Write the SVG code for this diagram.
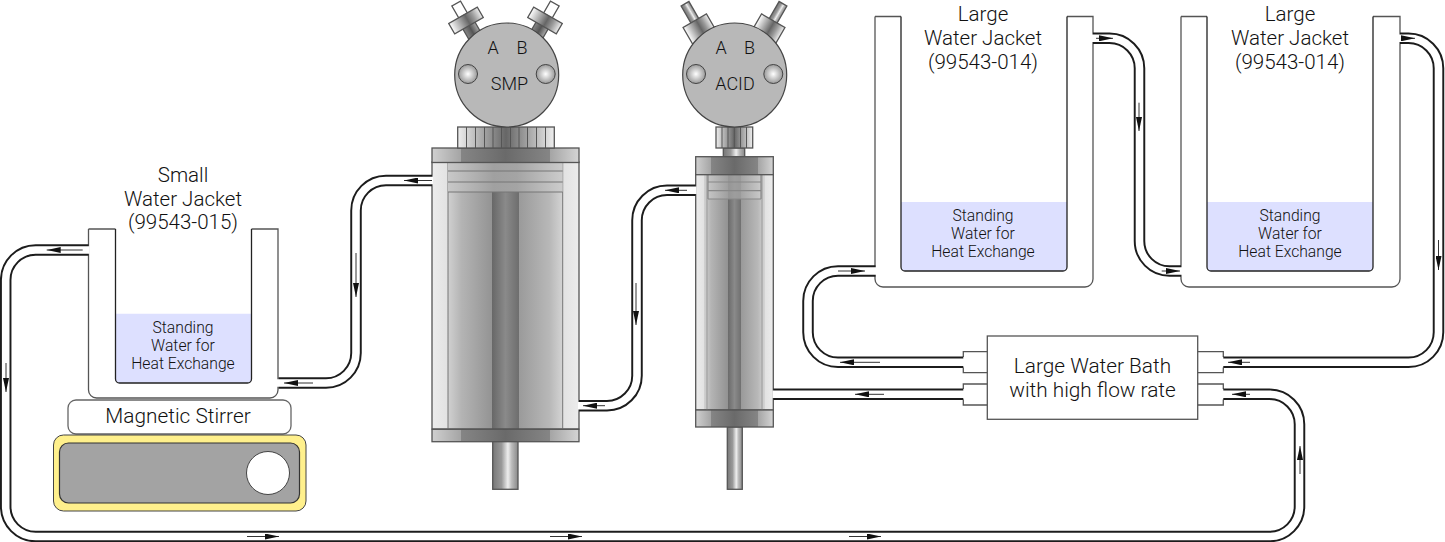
<svg xmlns="http://www.w3.org/2000/svg" width="1445" height="542" viewBox="0 0 1445 542">
<style>
text{font-family:Roboto,"Liberation Sans",sans-serif;font-weight:300;fill:#111;text-anchor:middle}
.l{font-size:20.500px}.s{font-size:15.700px}.b{font-size:20.800px}.h{font-size:18px}
.o{stroke:#555;stroke-width:1.300}
.t0{fill:none;stroke:#1c1c1c;stroke-width:11.500}
.t1{fill:none;stroke:#fff;stroke-width:7.600}
.a{stroke:#333;stroke-width:1;marker-end:url(#ah)}
.w{fill:#dde0ff;stroke:none}
.j{fill:none;stroke:#555;stroke-width:1.300}
.ji{fill:none;stroke:#222;stroke-width:1.300}
.rib{fill:none;stroke:#555;stroke-width:1}
</style>
<defs>
<marker id="ah" markerUnits="userSpaceOnUse" markerWidth="14" markerHeight="6" refX="14" refY="3" orient="auto"><path d="M0 0L14 3L0 6Z" fill="#111"/></marker>
<linearGradient id="body"><stop offset="0" stop-color="#ececec"/><stop offset=".11" stop-color="#e2e2e2"/><stop offset=".11" stop-color="#d0d0d0"/><stop offset=".2" stop-color="#b4b4b4"/><stop offset=".41" stop-color="#939393"/><stop offset=".41" stop-color="#686868"/><stop offset=".5" stop-color="#8a8a8a"/><stop offset=".59" stop-color="#6e6e6e"/><stop offset=".59" stop-color="#9a9a9a"/><stop offset=".8" stop-color="#b8b8b8"/><stop offset=".89" stop-color="#d4d4d4"/><stop offset=".89" stop-color="#e2e2e2"/><stop offset="1" stop-color="#ececec"/></linearGradient>
<linearGradient id="piston"><stop offset="0" stop-color="#c8c8c8"/><stop offset=".4" stop-color="#a0a0a0"/><stop offset=".6" stop-color="#a4a4a4"/><stop offset="1" stop-color="#cccccc"/></linearGradient>
<linearGradient id="cap"><stop offset="0" stop-color="#d0d0d0"/><stop offset=".2" stop-color="#a4a4a4"/><stop offset=".2" stop-color="#858585"/><stop offset=".5" stop-color="#6a6a6a"/><stop offset=".8" stop-color="#858585"/><stop offset=".8" stop-color="#a4a4a4"/><stop offset="1" stop-color="#d4d4d4"/></linearGradient>
<linearGradient id="shaft"><stop offset="0" stop-color="#777"/><stop offset=".35" stop-color="#999"/><stop offset=".6" stop-color="#eee"/><stop offset=".75" stop-color="#bbb"/><stop offset="1" stop-color="#888"/></linearGradient>
<linearGradient id="knob"><stop offset="0" stop-color="#eee"/><stop offset=".5" stop-color="#666"/><stop offset="1" stop-color="#eee"/></linearGradient>
<linearGradient id="fit"><stop offset="0" stop-color="#fff"/><stop offset=".55" stop-color="#666"/><stop offset=".75" stop-color="#999"/><stop offset="1" stop-color="#eee"/></linearGradient>
<linearGradient id="neck"><stop offset="0" stop-color="#888"/><stop offset=".5" stop-color="#555"/><stop offset="1" stop-color="#aaa"/></linearGradient>
<radialGradient id="ball"><stop offset="0" stop-color="#fff"/><stop offset="1" stop-color="#999"/></radialGradient>
</defs>

<g id="small-jacket">
<path class="w" d="M115.500 313.700H251.500V379a4 4 0 0 1-4 4H119.500a4 4 0 0 1-4-4Z"/>
<path class="j" d="M88.500 229H115.500M251.500 229H278V390a8 8 0 0 1-8 8H96.500a8 8 0 0 1-8-8V229"/>
<path class="ji" d="M115.500 229V379a4 4 0 0 0 4 4H247.500a4 4 0 0 0 4-4V229"/>
<text class="l" x="183" y="182">Small</text><text class="l" x="183" y="205.500">Water Jacket</text><text class="l" x="183" y="229">(99543-015)</text>
<text class="s" x="183" y="332.500">Standing</text><text class="s" x="183" y="350.500">Water for</text><text class="s" x="183" y="368.500">Heat Exchange</text>
</g>
<g id="magnetic-stirrer">
<rect x="68" y="400" width="223" height="34" rx="8" fill="#fff" stroke="#666" stroke-width="1.300"/>
<text class="b" x="178" y="423">Magnetic Stirrer</text>
</g>
<g id="stirrer-base">
<rect x="53.500" y="435" width="252.500" height="76" rx="10" fill="#fff08c" stroke="#444" stroke-width="1"/>
<rect x="59.500" y="443" width="240" height="60" rx="9" fill="#a3a3a3" stroke="#333" stroke-width="1.200"/>
<circle cx="268" cy="473" r="21.500" fill="#fff" stroke="#444" stroke-width="1"/>
</g>

<g id="smp-pump">
<rect x="492.700" y="441" width="25.300" height="48.300" fill="url(#shaft)" class="o"/>
<rect x="432" y="162" width="147" height="267" fill="url(#body)" class="o"/>
<path d="M448 162V429M562.700 162V429" stroke="#777" fill="none"/>
<path d="M448 163H562.700V192H448Z" fill="url(#piston)"/>
<path d="M448 171H562.700M448 182H562.700M448 192H562.700" fill="none" stroke="#777" stroke-width="1.200"/>
<rect x="432" y="429.300" width="147" height="12.400" fill="url(#cap)" class="o"/>
<rect x="432" y="148" width="147" height="14.500" fill="url(#cap)" class="o"/>
<rect x="457.700" y="127" width="96.600" height="21" fill="url(#knob)" class="o"/>
<path class="rib" d="M466.500 127V148M475.500 127V148M484.500 127V148M493 127V148M501.500 127V148M510.500 127V148M519 127V148M527.500 127V148M536.500 127V148M545.500 127V148"/>
<g transform="translate(466 20.500) rotate(-30)"><rect x="-7" y="5" width="14" height="18" fill="url(#neck)" class="o"/><rect x="-5" y="-19.600" width="10" height="14" fill="#fff" class="o"/><rect x="-16.500" y="-6" width="33" height="12" fill="url(#fit)" class="o"/></g>
<g transform="translate(545 20.500) rotate(30)"><rect x="-7" y="5" width="14" height="18" fill="url(#neck)" class="o"/><rect x="-5" y="-19.600" width="10" height="14" fill="#fff" class="o"/><rect x="-16.500" y="-6" width="33" height="12" fill="url(#fit)" class="o"/></g>
<circle cx="506.700" cy="75" r="52" fill="#b8b8b8" stroke="#444" stroke-width="1.200"/>
<circle cx="468" cy="74" r="9.500" fill="url(#ball)" stroke="#444"/><circle cx="545.700" cy="74" r="9.500" fill="url(#ball)" stroke="#444"/>
<text class="h" x="493" y="54">A</text><text class="h" x="522" y="54">B</text><text class="h" x="509.500" y="90">SMP</text>
</g>

<g id="acid-pump">
<rect x="727.300" y="427" width="15" height="62.300" fill="url(#shaft)" class="o"/>
<rect x="723.300" y="148" width="21.400" height="9" fill="url(#shaft)" class="o"/>
<rect x="695.700" y="174" width="77.600" height="236" fill="url(#body)" class="o"/>
<path d="M707 174V410M762 174V410" stroke="#999" fill="none"/>
<path d="M708 175H761V199H708Z" fill="url(#piston)" fill-opacity=".8"/>
<path d="M708 175V199M761 175V199M708 182H761M708 190.700H761M708 199H761" fill="none" stroke="#888" stroke-width="1.200"/>
<rect x="695.700" y="410" width="77.600" height="17" fill="url(#cap)" class="o"/>
<rect x="695.700" y="156.700" width="77.600" height="18" fill="url(#cap)" class="o"/>
<rect x="716" y="127" width="36.700" height="21" fill="url(#knob)" class="o"/>
<path class="rib" d="M722 127V148M728 127V148M734.300 127V148M740.500 127V148M746.500 127V148"/>
<g transform="translate(699 28) rotate(-30)"><rect x="-4.500" y="-28" width="9" height="22" fill="url(#shaft)" class="o"/><rect x="-13.500" y="-8.500" width="27" height="25" fill="url(#fit)" class="o"/></g>
<g transform="translate(769 28) rotate(30)"><rect x="-4.500" y="-28" width="9" height="22" fill="url(#shaft)" class="o"/><rect x="-13.500" y="-8.500" width="27" height="25" fill="url(#fit)" class="o"/></g>
<circle cx="734.700" cy="75" r="52" fill="#b8b8b8" stroke="#444" stroke-width="1.200"/>
<circle cx="696" cy="74" r="9.500" fill="url(#ball)" stroke="#444"/><circle cx="773.300" cy="74" r="9.500" fill="url(#ball)" stroke="#444"/>
<text class="h" x="721" y="54">A</text><text class="h" x="749.500" y="54">B</text><text class="h" x="735" y="90">ACID</text>
</g>

<g id="large-jacket-1">
<path class="w" d="M901 202H1067V267a4 4 0 0 1-4 4H905a4 4 0 0 1-4-4Z"/>
<path class="j" d="M875 16.500H901M1067 16.500H1093V279a8 8 0 0 1-8 8H883a8 8 0 0 1-8-8V16.500"/>
<path class="ji" d="M901 16.500V267a4 4 0 0 0 4 4H1063a4 4 0 0 0 4-4V16.500"/>
<text class="l" x="983" y="20.500">Large</text><text class="l" x="983" y="44.500">Water Jacket</text><text class="l" x="983" y="68.500">(99543-014)</text>
<text class="s" x="983" y="220.500">Standing</text><text class="s" x="983" y="238.500">Water for</text><text class="s" x="983" y="256.500">Heat Exchange</text>
</g>
<g id="large-jacket-2">
<path class="w" d="M1207 202H1373V267a4 4 0 0 1-4 4H1211a4 4 0 0 1-4-4Z"/>
<path class="j" d="M1181 16.500H1207M1373 16.500H1400V279a8 8 0 0 1-8 8H1189a8 8 0 0 1-8-8V16.500"/>
<path class="ji" d="M1207 16.500V267a4 4 0 0 0 4 4H1369a4 4 0 0 0 4-4V16.500"/>
<text class="l" x="1290" y="20.500">Large</text><text class="l" x="1290" y="44.500">Water Jacket</text><text class="l" x="1290" y="68.500">(99543-014)</text>
<text class="s" x="1290" y="220.500">Standing</text><text class="s" x="1290" y="238.500">Water for</text><text class="s" x="1290" y="256.500">Heat Exchange</text>
</g>
<g id="water-bath">
<rect x="987.300" y="336" width="210.400" height="83.300" fill="#fff" class="o"/>
<path class="o" fill="none" d="M987.300 351.700H963.300V357M963.300 367.500V372.700H987.300M987.300 384H963.300V389M963.300 399.500V405H987.300M1197.700 351.700H1223.300V357M1223.300 367.500V372.700H1197.700M1197.700 384H1223.300V389M1223.300 399.500V405H1197.700"/>
<text class="b" x="1092.500" y="373">Large Water Bath</text><text class="b" x="1092.500" y="396.500">with high flow rate</text>
</g>

<g id="connectors">
<g class="t0">
<path d="M278.500 383H326a30 30 0 0 0 30-30V210.500a30 30 0 0 1 30-30H432"/>
<path d="M579 405.700H607a30 30 0 0 0 30-30V220.300a30 30 0 0 1 30-30H695.700"/>
<path d="M773.300 394.300H963.300"/>
<path d="M963.300 362.300H838a30 30 0 0 1-30-30V301a30 30 0 0 1 30-30H875.500"/>
<path d="M1093 38.300H1109.500a30 30 0 0 1 30 30V241a30 30 0 0 0 30 30H1181"/>
<path d="M1400 38.300H1408.500a30 30 0 0 1 30 30V332.300a30 30 0 0 1-30 30H1223.300"/>
<path d="M88.500 250H35.700a30 30 0 0 0-30 30V506.500a30 30 0 0 0 30 30H1269.500a30 30 0 0 0 30-30V424.300a30 30 0 0 0-30-30H1223.300"/>
</g>
<g class="t1">
<path d="M277 383H326a30 30 0 0 0 30-30V210.500a30 30 0 0 1 30-30H433"/>
<path d="M578 405.700H607a30 30 0 0 0 30-30V220.300a30 30 0 0 1 30-30H696.500"/>
<path d="M772.500 394.300H964"/>
<path d="M964 362.300H838a30 30 0 0 1-30-30V301a30 30 0 0 1 30-30H876"/>
<path d="M1092 38.300H1109.500a30 30 0 0 1 30 30V241a30 30 0 0 0 30 30H1182"/>
<path d="M1399 38.300H1408.500a30 30 0 0 1 30 30V332.300a30 30 0 0 1-30 30H1222.500"/>
<path d="M89.500 250H35.700a30 30 0 0 0-30 30V506.500a30 30 0 0 0 30 30H1269.500a30 30 0 0 0 30-30V424.300a30 30 0 0 0-30-30H1222.500"/>
</g>
<g>
<path class="a" d="M313 383H284"/><path class="a" d="M356 253V297"/><path class="a" d="M432 180.500H404"/>
<path class="a" d="M605 405.700H583"/><path class="a" d="M636 283V325"/><path class="a" d="M687 190.300H665"/>
<path class="a" d="M884 394.300H855"/>
<path class="a" d="M880 362.300H840"/><path class="a" d="M838 271H865"/>
<path class="a" d="M1096 38.300H1113"/><path class="a" d="M1139 102.700V131"/><path class="a" d="M1161.700 271H1180"/>
<path class="a" d="M1402 38.300H1415"/><path class="a" d="M1438.500 240V270"/><path class="a" d="M1250 362.300H1228"/>
<path class="a" d="M1250 394.300H1232"/><path class="a" d="M1300 474V446"/>
<path class="a" d="M247 536.500H279"/><path class="a" d="M550 536.500H582"/><path class="a" d="M849 536.500H881"/>
<path class="a" d="M6 363V392"/><path class="a" d="M82.700 250H46.700"/>
</g>
</g>
</svg>
